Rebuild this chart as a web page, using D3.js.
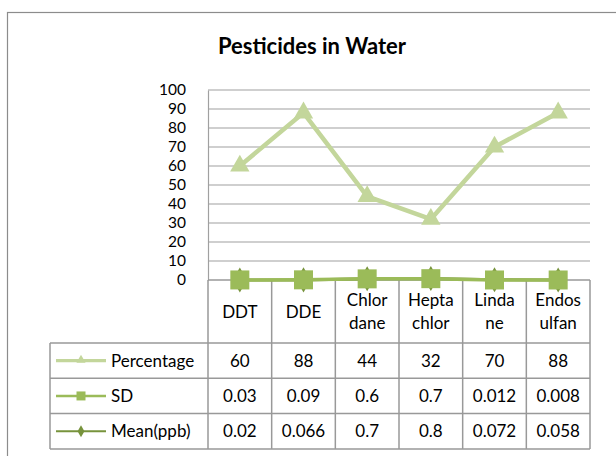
<!DOCTYPE html>
<html lang="en">
<head>
<meta charset="utf-8">
<title>Pesticides in Water</title>
<script src="https://cdn.jsdelivr.net/npm/d3@7"></script>
<style>
    body { margin: 0; background: #fff; }
    svg { display: block; font-family: Lato, "Open Sans", sans-serif; }
</style>
</head>
<body>
<div id="chart"></div>
<script>
    // chart data
    var categories = ["DDT", "DDE", "Chlordane", "Heptachlor", "Lindane", "Endosulfan"];
    var categoryLines = [["DDT"], ["DDE"], ["Chlor", "dane"], ["Hepta", "chlor"], ["Linda", "ne"], ["Endos", "ulfan"]];
    var percentage = [60, 88, 44, 32, 70, 88];
    var sd = [0.03, 0.09, 0.6, 0.7, 0.012, 0.008];
    var mean = [0.02, 0.066, 0.7, 0.8, 0.072, 0.058];
    var yTicks = [0, 10, 20, 30, 40, 50, 60, 70, 80, 90, 100];

    var series = [
        {name: "Percentage", values: percentage, color: "#c3d69b", width: 4.5, marker: "triangle"},
        {name: "SD", values: sd, color: "#9bbb59", width: 3.5, marker: "square"},
        {name: "Mean(ppb)", values: mean, color: "#77933c", width: 3, marker: "diamond"}
    ];

    var width = 616, height = 456;
    var plotLeft = 208, plotRight = 590, plotTop = 90, plotBottom = 280;
    var tableLeft = 50, headerBottom = 343, rowH = 35.3;
    var gridColor = "#a0a0a0";
    var tableFont = "17px";

    var svg = d3.select("#chart").append("svg")
        .attr("width", width)
        .attr("height", height);

    // outer chart border
    svg.append("rect")
        .attr("x", 7.5).attr("y", 12.5)
        .attr("width", 640).attr("height", 500)
        .style("fill", "none")
        .style("stroke", "#8c8c8c")
        .style("stroke-width", 1.2);

    svg.append("text")
        .attr("x", 312).attr("y", 54)
        .attr("text-anchor", "middle")
        .style("font-size", "22px")
        .style("font-weight", "bold")
        .text("Pesticides in Water");

    var x = d3.scaleBand().domain(categories).range([plotLeft, plotRight]);
    var y = d3.scaleLinear().domain([0, 100]).range([plotBottom, plotTop]);

    // gridlines
    svg.append("g").selectAll("line")
        .data(yTicks.slice(1))
        .enter().append("line")
        .attr("x1", plotLeft).attr("x2", plotRight)
        .attr("y1", function(d) { return y(d); })
        .attr("y2", function(d) { return y(d); })
        .style("stroke", gridColor)
        .style("stroke-width", 1.2);

    // y axis
    var yAxis = svg.append("g")
        .attr("transform", "translate(" + plotLeft + ",0)")
        .call(d3.axisLeft(y).tickValues(yTicks).tickSize(0).tickPadding(22));
    yAxis.select(".domain").style("stroke", gridColor).style("stroke-width", 1.2);
    yAxis.selectAll("text")
        .style("font-family", "Lato, sans-serif")
        .style("font-size", "15.5px")
        .style("fill", "#000");

    // table grid
    var rowsTop = headerBottom;
    var tableBottom = rowsTop + rowH * series.length;
    var tg = svg.append("g").style("stroke", "#999").style("stroke-width", 1.5);
    tg.append("line").attr("x1", plotLeft).attr("x2", plotRight).attr("y1", plotBottom).attr("y2", plotBottom);
    categories.concat(["end"]).forEach(function(c, i) {
        var xx = i < categories.length ? x(c) : plotRight;
        tg.append("line").attr("x1", xx).attr("x2", xx).attr("y1", plotBottom).attr("y2", tableBottom);
    });
    for (var r = 0; r <= series.length; r++) {
        var yy = rowsTop + r * rowH;
        tg.append("line").attr("x1", tableLeft).attr("x2", plotRight).attr("y1", yy).attr("y2", yy);
    }
    tg.append("line").attr("x1", tableLeft).attr("x2", tableLeft).attr("y1", rowsTop).attr("y2", tableBottom);

    // category labels
    categoryLines.forEach(function(lines, i) {
        var cx = x(categories[i]) + x.bandwidth() / 2;
        var cy = (plotBottom + headerBottom) / 2;
        var t = svg.append("text")
            .attr("text-anchor", "middle")
            .style("font-size", tableFont);
        lines.forEach(function(l, j) {
            t.append("tspan")
                .attr("x", cx)
                .attr("y", cy + 6 + (j - (lines.length - 1) / 2) * 23)
                .text(l);
        });
    });

    function markerPath(type, size) {
        if (type === "triangle") return d3.symbol().type(d3.symbolTriangle).size(size * size * 0.45)();
        if (type === "square") return d3.symbol().type(d3.symbolSquare).size(size * size)();
        return d3.symbol().type(d3.symbolDiamond).size(size * size * 0.5)();
    }

    // data rows + legend keys
    series.forEach(function(s, i) {
        var cy = rowsTop + i * rowH + rowH / 2;
        svg.append("line")
            .attr("x1", 56).attr("x2", 106)
            .attr("y1", cy).attr("y2", cy)
            .style("stroke", s.color).style("stroke-width", s.width * 0.7);
        svg.append("path")
            .attr("d", markerPath(s.marker, 9))
            .attr("transform", "translate(81," + (s.marker === "triangle" ? cy - 0.5 : cy) + ")")
            .style("fill", s.color);
        svg.append("text")
            .attr("x", 111).attr("y", cy + 6)
            .style("font-size", tableFont)
            .text(s.name);
        s.values.forEach(function(v, j) {
            svg.append("text")
                .attr("x", x(categories[j]) + x.bandwidth() / 2)
                .attr("y", cy + 6)
                .attr("text-anchor", "middle")
                .style("font-size", tableFont)
                .text(String(v));
        });
    });

    // lines, drawn back to front
    var line = d3.line()
        .x(function(d, i) { return x(categories[i]) + x.bandwidth() / 2; })
        .y(function(d) { return y(d); });

    [series[0], series[2], series[1]].forEach(function(s) {
        svg.append("path")
            .datum(s.values)
            .attr("d", line)
            .style("fill", "none")
            .style("stroke", s.color)
            .style("stroke-width", s.width)
            .style("stroke-linejoin", "round");
        svg.append("g").selectAll("path")
            .data(s.values)
            .enter().append("path")
            .attr("d", markerPath(s.marker, 19))
            .attr("transform", function(d, i) {
                return "translate(" + (x(categories[i]) + x.bandwidth() / 2) + "," + y(d) + ")";
            })
            .style("fill", s.color);
    });
</script>
</body>
</html>
